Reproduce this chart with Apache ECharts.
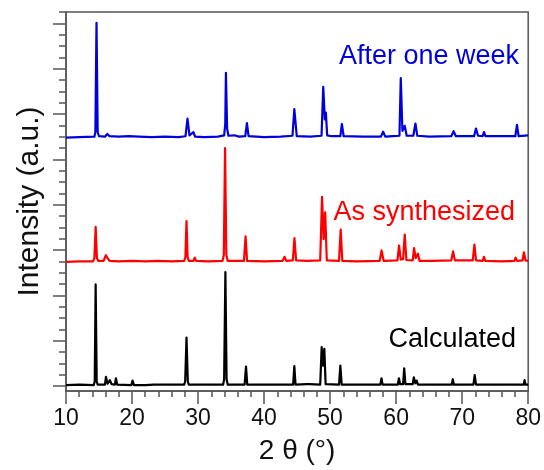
<!DOCTYPE html>
<html>
<head>
<meta charset="utf-8">
<script src="https://cdn.jsdelivr.net/npm/echarts@6/dist/echarts.min.js"></script>
<style>
html,body{margin:0;padding:0;background:#fff;}
#chart{width:544px;height:470px;}
</style>
</head>
<body>
<div id="chart"></div>
<script>
// ---- Data (2θ in degrees, intensity above each trace's own baseline, arbitrary units) ----
var seriesNames = ['Calculated', 'As synthesized', 'After one week'];
var seriesColors = ['#000000', '#ff0000', '#0000dd'];
var stackOffsets = [0, 2.74, 5.48];

var calculated = [
  [10,0.02],[12,0.03],[14.2,0.02],[14.35,0.1],[14.49,2.24],[14.65,0.1],[14.8,0.03],
  [15.9,0.03],[16.05,0.2],[16.3,0.05],[16.65,0.13],[16.9,0.04],[17.4,0.03],[17.56,0.17],[17.75,0.03],
  [19.9,0.02],[20.08,0.12],[20.3,0.02],[21.6,0.02],[21.8,0.06],[22,0.02],[23.3,0.03],[23.5,0.07],[23.7,0.03],
  [25.2,0.03],[25.4,0.05],[25.6,0.03],[27.9,0.03],[28.05,0.1],[28.25,1.07],[28.45,0.1],[28.6,0.03],
  [31,0.03],[31.2,0.05],[31.4,0.03],[33.8,0.03],[33.95,0.15],[34.14,2.51],[34.32,0.15],[34.5,0.03],
  [37.05,0.03],[37.26,0.43],[37.45,0.03],[40.5,0.03],[40.7,0.05],[40.9,0.03],
  [44.4,0.03],[44.58,0.44],[44.76,0.03],[46.5,0.04],[46.7,0.06],[46.9,0.04],
  [48.5,0.03],[48.72,0.86],[48.92,0.45],[49.12,0.82],[49.32,0.04],
  [51.35,0.03],[51.55,0.45],[51.75,0.03],[54.5,0.03],[54.7,0.05],[54.9,0.03],
  [57.6,0.03],[57.78,0.17],[57.95,0.03],
  [60.25,0.03],[60.42,0.17],[60.6,0.04],[61.05,0.04],[61.22,0.39],[61.4,0.04],
  [62.5,0.04],[62.68,0.19],[62.9,0.06],[63.1,0.12],[63.3,0.03],[65.5,0.03],[65.7,0.05],[65.9,0.03],
  [68.4,0.03],[68.58,0.15],[68.75,0.03],
  [71.7,0.03],[71.9,0.24],[72.1,0.03],[73.2,0.03],[73.4,0.06],[73.6,0.03],
  [76.5,0.03],[76.7,0.05],[76.9,0.03],[79.3,0.03],[79.45,0.13],[79.6,0.03],[80,0.03]
];

var asSynthesized = [
  [10,0.0],[12,0.01],[14.1,0.01],[14.3,0.08],[14.49,0.77],[14.68,0.08],[14.9,0.02],
  [15.7,0.02],[15.9,0.1],[16.05,0.145],[16.3,0.08],[16.6,0.02],[18,0.01],[20,0.02],[22,0.01],[24,0.02],[26,0.01],
  [27.9,0.02],[28.08,0.1],[28.25,0.9],[28.42,0.1],[28.6,0.02],[29.3,0.02],[29.5,0.09],[29.7,0.02],
  [31.5,0.01],[33.7,0.02],[33.9,0.15],[34.09,2.51],[34.28,0.15],[34.5,0.02],
  [36.95,0.02],[37.2,0.56],[37.42,0.02],[40,0.01],[42.8,0.02],[43.1,0.11],[43.35,0.02],
  [44.35,0.03],[44.6,0.52],[44.85,0.03],[46.5,0.02],
  [48.5,0.03],[48.78,1.43],[49.02,0.5],[49.25,1.09],[49.5,0.03],
  [51.35,0.02],[51.6,0.71],[51.85,0.02],[54,0.01],
  [57.5,0.02],[57.8,0.25],[58.1,0.02],[60.2,0.03],[60.44,0.36],[60.7,0.05],[61.05,0.06],[61.3,0.6],[61.55,0.04],
  [62.5,0.03],[62.72,0.3],[62.95,0.08],[63.3,0.18],[63.55,0.02],[65.5,0.02],
  [68.35,0.03],[68.62,0.23],[68.9,0.03],[71.6,0.03],[71.85,0.38],[72.1,0.03],
  [73.1,0.02],[73.3,0.11],[73.5,0.02],[76,0.01],[77.9,0.02],[78.1,0.09],[78.3,0.02],
  [79.15,0.03],[79.35,0.21],[79.6,0.03],[80,0.02]
];

var afterOneWeek = [
  [10,0.0],[12,0.01],[14.3,0.02],[14.45,0.12],[14.62,2.53],[14.8,0.12],[15,0.03],
  [15.9,0.02],[16.25,0.08],[16.6,0.03],[18,0.02],[19.5,0.03],[21,0.02],[23,0.01],[25,0.02],[27,0.01],
  [28.1,0.03],[28.4,0.42],[28.7,0.05],[29.3,0.12],[29.55,0.02],[31,0.01],[33,0.02],
  [33.95,0.05],[34.12,0.3],[34.22,1.43],[34.4,0.2],[34.6,0.04],[35.5,0.05],[36.2,0.02],
  [37.15,0.03],[37.4,0.32],[37.65,0.03],[40,0.01],[42.5,0.02],
  [44.3,0.04],[44.58,0.63],[44.75,0.35],[44.95,0.03],[47,0.02],
  [48.7,0.04],[48.96,1.12],[49.2,0.4],[49.36,0.55],[49.55,0.05],[50.2,0.03],
  [51.55,0.03],[51.78,0.3],[52.05,0.03],[55,0.02],
  [57.7,0.02],[58.03,0.13],[58.35,0.02],[59.5,0.03],
  [60.5,0.04],[60.7,1.31],[60.95,0.15],[61.3,0.26],[61.6,0.04],[62.6,0.04],[62.92,0.31],[63.2,0.04],
  [65,0.02],[68.35,0.03],[68.7,0.14],[69.05,0.03],[71.8,0.03],[72.09,0.2],[72.4,0.04],
  [73.1,0.03],[73.3,0.12],[73.55,0.03],[76,0.03],[78.05,0.03],[78.3,0.28],[78.55,0.03],[80,0.05]
];

var traces = [calculated, asSynthesized, afterOneWeek];

var xTickValues = [10, 20, 30, 40, 50, 60, 70, 80];
var yMajorTicks = [0, 1, 2, 3, 4, 5, 6, 7, 8];
var yMinorTicks = [0.25,0.5,0.75,1.25,1.5,1.75,2.25,2.5,2.75,3.25,3.5,3.75,4.25,4.5,4.75,5.25,5.5,5.75,6.25,6.5,6.75,7.25,7.5,7.75,8.25];

var chart = echarts.init(document.getElementById('chart'), null, {renderer: 'canvas'});
var FONT = '"Liberation Sans", Arial, sans-serif';
var AX = '#555555';

var series = traces.map(function (pts, i) {
  return {
    name: seriesNames[i],
    type: 'line',
    xAxisIndex: 0,
    yAxisIndex: 0,
    showSymbol: false,
    symbol: 'none',
    silent: true,
    animation: false,
    lineStyle: {color: seriesColors[i], width: 2.2, join: 'round'},
    itemStyle: {color: seriesColors[i]},
    data: pts.map(function (p) { return [p[0], p[1] + stackOffsets[i]]; })
  };
});

var yCommon = {
  type: 'value', min: -0.11, max: 8.25, position: 'left',
  splitLine: {show: false},
  axisLabel: {show: false}
};

chart.setOption({
  animation: false,
  backgroundColor: '#ffffff',
  grid: {left: 66, right: 15, top: 12, bottom: 76, show: true, borderColor: AX, borderWidth: 1.5, backgroundColor: 'transparent'},
  xAxis: {
    type: 'value', min: 10, max: 80, interval: 10,
    name: '2 \u03b8 (\u00b0)', nameLocation: 'middle', nameGap: 46,
    nameTextStyle: {fontSize: 28, color: '#111', fontFamily: FONT},
    axisLine: {show: true, onZero: false, lineStyle: {color: AX, width: 1.5}},
    axisTick: {show: true, inside: false, length: 13, lineStyle: {color: AX, width: 1.5}},
    minorTick: {show: true, splitNumber: 5, length: 6, lineStyle: {color: AX, width: 1.5}},
    axisLabel: {fontSize: 23, color: '#111', fontFamily: FONT, margin: 16,
      customValues: xTickValues},
    splitLine: {show: false}, minorSplitLine: {show: false}
  },
  yAxis: [
    Object.assign({}, yCommon, {
      name: 'Intensity (a.u.)', nameLocation: 'middle', nameGap: 21,
      nameTextStyle: {fontSize: 30, color: '#111', fontFamily: FONT},
      axisLine: {show: true, onZero: false, lineStyle: {color: AX, width: 1.5}},
      axisTick: {show: true, inside: false, length: 13, customValues: yMajorTicks, lineStyle: {color: AX, width: 1.5}}
    }),
    Object.assign({}, yCommon, {
      axisLine: {show: false, onZero: false},
      axisTick: {show: true, inside: false, length: 7, customValues: yMinorTicks, lineStyle: {color: AX, width: 1.5}}
    })
  ],
  series: series,
  graphic: [
    {type: 'text', right: 25, top: 43, silent: true,
      style: {text: seriesNames[2], fill: seriesColors[2], font: '27px ' + FONT}},
    {type: 'text', right: 29, top: 199, silent: true,
      style: {text: seriesNames[1], fill: seriesColors[1], font: '27px ' + FONT}},
    {type: 'text', right: 28, top: 326, silent: true,
      style: {text: seriesNames[0], fill: seriesColors[0], font: '27px ' + FONT}}
  ]
});
</script>
</body>
</html>
